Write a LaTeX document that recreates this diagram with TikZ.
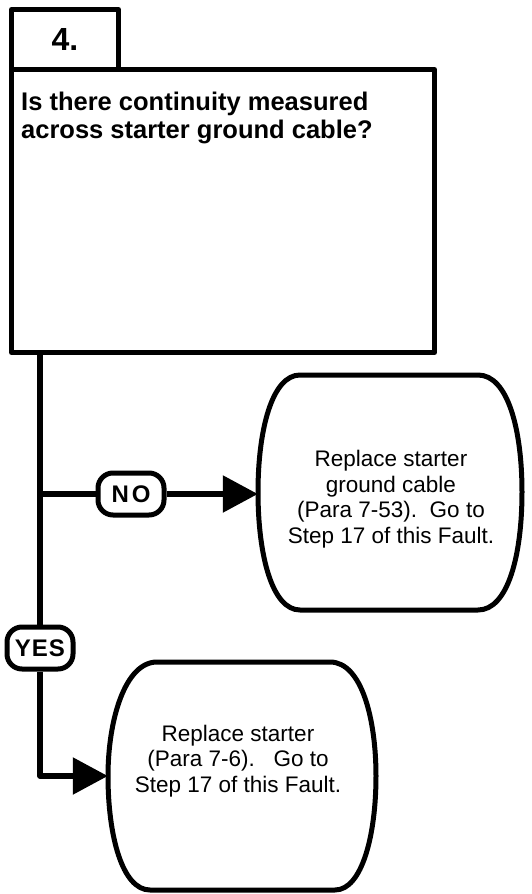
\documentclass[tikz,border=0pt]{standalone}
\usepackage{fontspec}
\setmainfont{Liberation Sans}
\usetikzlibrary{arrows.meta,calc}
\begin{document}
\begin{tikzpicture}[x=1pt,y=-1pt,line join=round,
  boxline/.style={line width=5pt},
  conn/.style={line width=5.5pt},
  lbl/.style={draw,fill=white,line width=5pt,rounded corners=15pt,minimum width=64pt,inner sep=0pt,
    font=\fontsize{24}{24}\selectfont\bfseries},
  bodytext/.style={align=center,inner sep=0pt,font=\fontsize{22.5}{25.5}\selectfont},
  tip/.style={-{Triangle[length=35pt,width=36pt]}}]
\useasboundingbox (0,0) rectangle (532,894);
% step tab and question box
\node[draw,boxline,anchor=north west,minimum width=107pt,minimum height=60pt,inner sep=0pt,
  font=\fontsize{32}{32}\selectfont\bfseries] (tab) at (9,7) {4.\hspace{10pt}};
\node[draw,boxline,anchor=north west,minimum width=423pt,minimum height=283pt] (q) at (9,67) {};
\node[anchor=north west,align=left,inner sep=0pt,font=\fontsize{25.5}{28}\selectfont\bfseries] (qtext) at (21,92)
  {Is there continuity measured\\across starter ground cable?};
% result shapes
\node[minimum width=264pt,minimum height=235pt,inner sep=0pt] (nobox) at (390,492) {};
\draw[boxline] (300,375) -- (478,375) .. controls (508,375) and (522,430) .. (522,492)
  .. controls (522,555) and (508,610) .. (478,610) -- (300,610)
  .. controls (272,610) and (258,555) .. (258,492)
  .. controls (258,430) and (272,375) .. (300,375) -- cycle;
\node[bodytext] (notext) at (391,499) {Replace starter\\ground cable\\(Para 7-53).\ \ Go to\\Step 17 of this Fault.};
\node[minimum width=268pt,minimum height=228pt,inner sep=0pt] (yesbox) at (242,776) {};
\draw[boxline] (157,662) -- (330,662) .. controls (362,662) and (376,720) .. (376,776)
  .. controls (376,835) and (362,890) .. (335,890) -- (150,890)
  .. controls (122,890) and (108,835) .. (108,776)
  .. controls (108,720) and (125,662) .. (157,662) -- cycle;
\node[bodytext] (yestext) at (238,761) {Replace starter\\(Para 7-6).\ \ \ Go to\\Step 17 of this Fault.};
% labels
\node[lbl,minimum width=66pt,minimum height=42pt] (no) at (131,494) {N\hspace{3pt}O};
\node[lbl,minimum width=66pt,minimum height=42pt] (yes) at (40,648) {Y\hspace{1pt}E\hspace{1pt}S};
% connectors
\coordinate (start) at ($(q.south west)+(31,0)$);
\draw[conn] (start) -- (yes.north);
\draw[conn] (start |- no.west) -- (no.west);
\draw[conn,tip] (no.east) -- (no.east -| nobox.west);
\draw[conn,tip] (yes.south) |- (yesbox.west);
\end{tikzpicture}
\end{document}
